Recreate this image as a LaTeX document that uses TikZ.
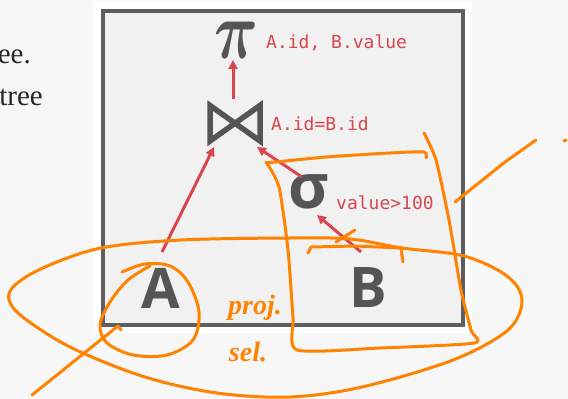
\documentclass[tikz,border=0pt]{standalone}
\usepackage{fontspec}
\setmainfont{Liberation Serif}
\newfontfamily\opensans{Open Sans}
\newfontfamily\monofont{DejaVu Sans Mono}
\usetikzlibrary{arrows.meta}
\definecolor{pagebg}{HTML}{F7F7F7}
\definecolor{boxfill}{HTML}{F1F1F1}
\definecolor{boxline}{HTML}{5E5E5E}
\definecolor{opgray}{HTML}{555555}
\definecolor{lblred}{HTML}{D9464E}
\definecolor{pen}{HTML}{FF8200}
\tikzset{
  lbl/.style={anchor=base west, inner sep=0pt, text=lblred, font=\monofont\fontsize{18}{18}\selectfont},
  rel/.style={inner sep=0pt, text=opgray, font=\opensans\bfseries\fontsize{56}{56}\selectfont},
  arr/.style={draw=lblred, line width=3pt, -{Triangle[length=9pt,width=9pt]}},
  ink/.style={draw=pen, line width=3pt, line cap=round, line join=round},
  inktext/.style={text=pen, inner sep=0pt, font=\itshape\bfseries\fontsize{28}{28}\selectfont},
  sidetext/.style={anchor=base east, inner sep=0pt, text=black!85, font=\fontsize{29}{29}\selectfont}
}
\begin{document}
\begin{tikzpicture}[x=1pt,y=-1pt]
\useasboundingbox (0,0) rectangle (568,399);
\fill[pagebg] (0,0) rectangle (568,399);
\fill[white] (93,2) rectangle (472,333);
% side text
\node[sidetext] (t1) at (31,63) {ee.};
\node[sidetext] (t2) at (43,105) {tree};
% box
\draw[boxline, fill=boxfill, line width=4pt] (103,11) rectangle (463,324.5);
% operators
\node[inner sep=0pt, text=opgray] (pi) at (236,40) {\scalebox{6.1}[8.2]{\boldmath$\pi$}};
\node[lbl] (pilbl) at (266,48) {A.id, B.value};
\node[inner sep=0pt, minimum width=56pt, minimum height=40pt] (join) at (235,124) {};
\draw[opgray, line width=5.5pt, line join=miter] (210,105.5) -- (210,141) -- (260,105.5) -- (260,141) -- cycle;
\node[lbl] (joinlbl) at (271,130) {A.id=B.id};
\node[inner sep=0pt, text=opgray, font=\opensans\bfseries\fontsize{62}{62}\selectfont] (sigma) at (309,192) {σ};
\node[lbl] (siglbl) at (336,209) {value>100};
\node[rel] (A) at (161,288) {A};
\node[rel] (B) at (368,288) {B};
% arrow ends
\coordinate (joinTop) at (233,99);
\coordinate (piBot) at (233,60);
\coordinate (Atop) at (162,252);
\coordinate (joinL) at (214,147);
\coordinate (sigTop) at (302,177);
\coordinate (joinR) at (257,147);
\coordinate (Btop) at (361,252);
\coordinate (sigBot) at (317,215);
\draw[arr] (joinTop) -- (piBot);
\draw[arr] (Atop) -- (joinL);
\draw[arr] (sigTop) -- (joinR);
\draw[arr] (Btop) -- (sigBot);
% annotations
\draw[ink] plot[smooth cycle, tension=0.55] coordinates {(101,248) (181,240) (290,238) (350,239) (402,248) (464,256) (507,276) (522,300) (508,330) (453,360) (362,387) (290,397) (217,393) (145,377) (72,348) (24,318) (9,300) (15,285) (45,267)};
\draw[ink] plot[smooth, tension=0.55] coordinates {(122,272) (145,264) (170,266) (188,282) (199,312) (193,340) (167,355) (133,355) (107,343) (100,325) (110,302) (128,280) (150,266)};
\draw[ink] (32,395) -- (118,326) -- (121,330);
\draw[ink] (308,253) -- (311,247) -- (355,246) -- (401,248) -- (403,262);
\draw[ink] (336,242) -- (355,230);
\draw[ink] plot[smooth, tension=0.4] coordinates {(426,158) (424,152) (390,153) (326,157) (266,163)};
\draw[ink] plot[smooth, tension=0.4] coordinates {(266,162) (279,187) (288,250) (293,317) (297,350) (380,348) (474,343) (471,330) (461,290) (449,220) (436,160) (424,133)};
\draw[ink] (536,140) -- (505,162) -- (455,202);
\draw[ink] (564,141) -- (566,140);
\node[inktext] (proj) at (255,308) {proj.};
\node[inktext] (sel) at (248,352) {sel.};
\end{tikzpicture}
\end{document}
